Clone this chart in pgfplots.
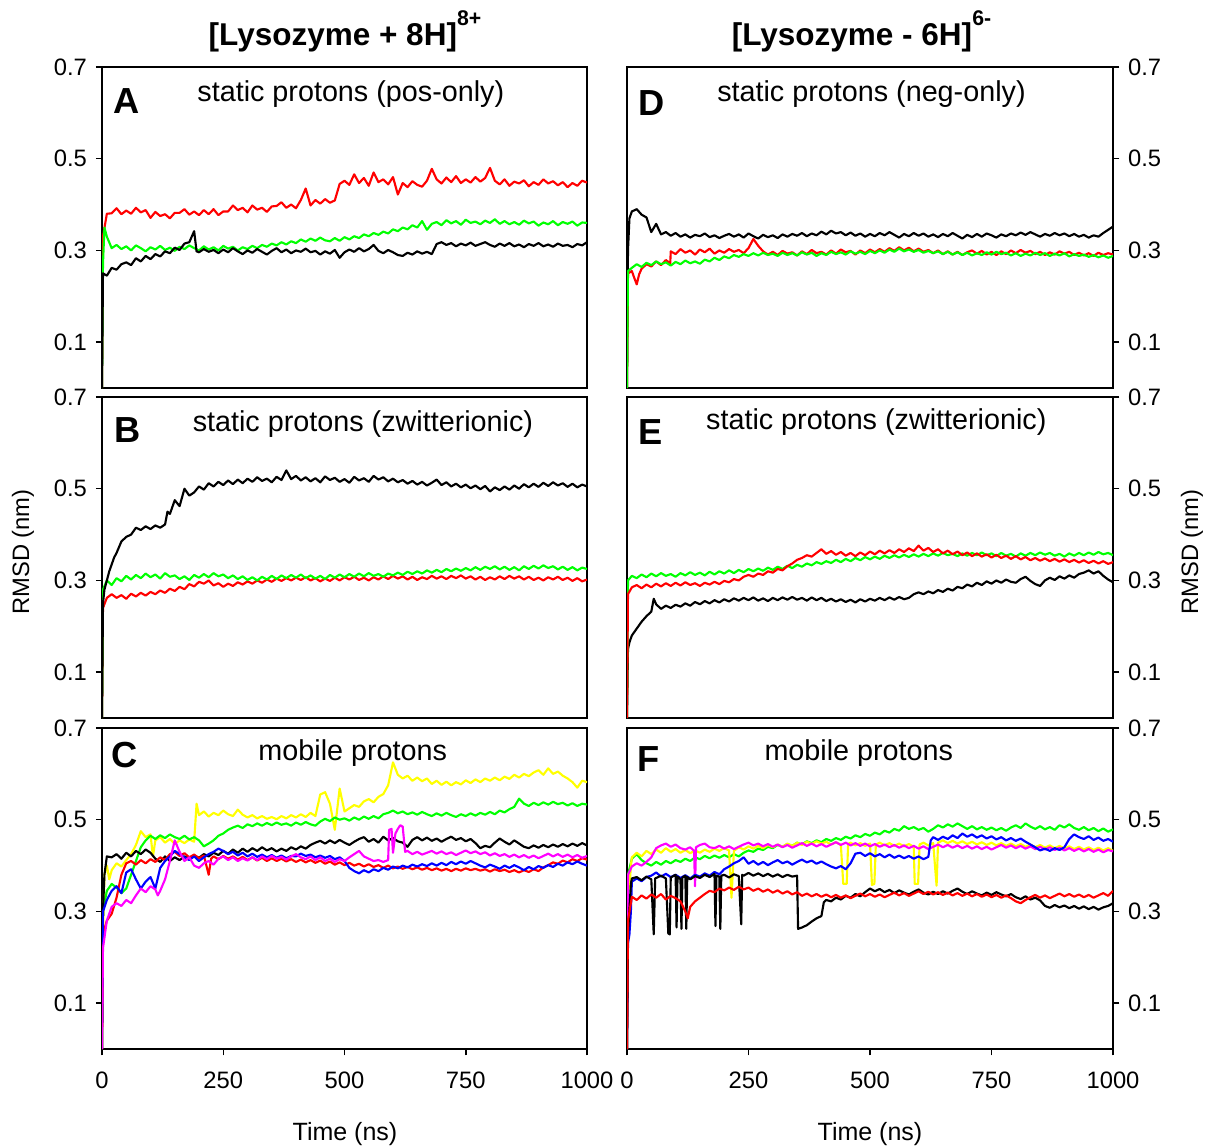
\documentclass[border=0pt]{standalone}
\usepackage{fontspec}
\setmainfont{Liberation Sans}
\usepackage{pgfplots}
\pgfplotsset{compat=1.18}

\definecolor{rred}{RGB}{255,0,0}
\definecolor{ggreen}{RGB}{0,255,0}
\definecolor{bblue}{RGB}{0,0,255}
\definecolor{yyellow}{RGB}{255,255,0}
\definecolor{mmag}{RGB}{255,0,255}

\pgfplotsset{
  panel/.style={
    scale only axis, width=194pt, height=128.4pt,
    xmin=0, xmax=1000, ymin=0, ymax=0.7,
    ytick={0.1,0.3,0.5,0.7},
    yticklabel style={/pgf/number format/fixed,/pgf/number format/precision=1},
    /pgf/number format/assume math mode=true,
    /pgf/number format/1000 sep={},
    tick align=outside, major tick length=2.5pt,
    tick style={black, line width=0.6pt},
    axis line style={line width=0.6pt},
    tick label style={font=\fontsize{9.5}{11}\selectfont},
    xtick=\empty,
    every axis plot/.append style={line width=0.85pt, line join=round},
  },
  leftp/.style={ytick pos=left, anchor=north west},
  rightp/.style={ytick pos=right, yticklabel pos=right, anchor=north west},
  bottomp/.style={xtick={0,250,500,750,1000}, xtick pos=bottom, xticklabel style={yshift=-3pt}},
}
\tikzset{
  letter/.style={font=\bfseries\fontsize{14.5}{16}\selectfont, anchor=base west, inner sep=0pt},
  sub/.style={font=\fontsize{11.5}{13}\selectfont, anchor=base},
}

\begin{document}
\begin{tikzpicture}
\useasboundingbox (0pt,0pt) rectangle (482pt,-458.8pt);

% ---------- A ----------
\begin{axis}[panel, leftp, at={(40.8pt,-26.8pt)}]
\addplot[rred] coordinates {(0,0) (2,0.33) (10,0.380) (20,0.381) (30,0.392) (40,0.379) (50,0.387) (60,0.380) (70,0.393) (80,0.383) (90,0.388) (100,0.371) (110,0.384) (120,0.375) (130,0.379) (140,0.370) (150,0.382) (160,0.382) (170,0.390) (180,0.378) (190,0.385) (200,0.377) (210,0.388) (220,0.379) (230,0.390) (240,0.377) (250,0.385) (260,0.385) (270,0.398) (280,0.388) (290,0.393) (300,0.383) (310,0.398) (320,0.389) (330,0.393) (340,0.384) (350,0.396) (360,0.397) (370,0.405) (380,0.393) (390,0.400) (400,0.392) (410,0.410) (420,0.435) (430,0.398) (440,0.410) (450,0.402) (460,0.412) (470,0.404) (480,0.409) (490,0.445) (500,0.452) (510,0.443) (520,0.466) (530,0.447) (540,0.458) (550,0.441) (560,0.470) (570,0.449) (580,0.455) (590,0.444) (600,0.460) (610,0.422) (620,0.447) (630,0.438) (640,0.451) (650,0.443) (660,0.439) (670,0.452) (680,0.478) (690,0.455) (700,0.446) (710,0.459) (720,0.449) (730,0.462) (740,0.447) (750,0.455) (760,0.448) (770,0.460) (780,0.450) (790,0.458) (800,0.480) (810,0.452) (820,0.444) (830,0.455) (840,0.441) (850,0.450) (860,0.446) (870,0.453) (880,0.440) (890,0.449) (900,0.443) (910,0.455) (920,0.446) (930,0.451) (940,0.442) (950,0.449) (960,0.438) (970,0.447) (980,0.441) (990,0.452) (1000,0.448)};
\addplot[ggreen] coordinates {(0,0) (2,0.27) (5,0.35) (10,0.33) (20,0.305) (30,0.312) (40,0.303) (50,0.309) (60,0.300) (70,0.311) (80,0.305) (90,0.298) (100,0.307) (110,0.302) (120,0.310) (130,0.301) (140,0.306) (150,0.299) (160,0.308) (170,0.303) (180,0.311) (190,0.305) (200,0.300) (210,0.309) (220,0.302) (230,0.307) (240,0.300) (250,0.310) (260,0.304) (270,0.308) (280,0.300) (290,0.307) (300,0.303) (310,0.310) (320,0.305) (330,0.312) (340,0.308) (350,0.315) (360,0.311) (370,0.318) (380,0.313) (390,0.320) (400,0.316) (410,0.324) (420,0.319) (430,0.326) (440,0.321) (450,0.328) (460,0.322) (470,0.320) (480,0.327) (490,0.321) (500,0.329) (510,0.324) (520,0.331) (530,0.327) (540,0.335) (550,0.331) (560,0.338) (570,0.334) (580,0.341) (590,0.337) (600,0.346) (610,0.342) (620,0.350) (630,0.346) (640,0.355) (650,0.350) (660,0.364) (670,0.345) (680,0.358) (690,0.362) (700,0.355) (710,0.366) (720,0.359) (730,0.364) (740,0.356) (750,0.367) (760,0.360) (770,0.363) (780,0.357) (790,0.365) (800,0.360) (810,0.368) (820,0.358) (830,0.364) (840,0.357) (850,0.362) (860,0.356) (870,0.365) (880,0.359) (890,0.363) (900,0.354) (910,0.361) (920,0.357) (930,0.364) (940,0.355) (950,0.362) (960,0.358) (970,0.363) (980,0.354) (990,0.361) (1000,0.360)};
\addplot[black] coordinates {(0,0) (2,0.25) (10,0.245) (20,0.262) (30,0.258) (40,0.270) (50,0.274) (60,0.268) (70,0.283) (80,0.276) (90,0.288) (100,0.281) (110,0.292) (120,0.287) (130,0.298) (140,0.294) (150,0.306) (160,0.301) (170,0.315) (180,0.318) (190,0.342) (195,0.298) (200,0.296) (210,0.303) (220,0.297) (230,0.301) (240,0.294) (250,0.302) (260,0.296) (270,0.305) (280,0.298) (290,0.292) (300,0.300) (310,0.295) (320,0.303) (330,0.297) (340,0.291) (350,0.299) (360,0.305) (370,0.296) (380,0.302) (390,0.294) (400,0.300) (410,0.297) (420,0.304) (430,0.296) (440,0.299) (450,0.291) (460,0.298) (470,0.293) (480,0.301) (490,0.284) (500,0.296) (510,0.302) (520,0.297) (530,0.305) (540,0.298) (550,0.303) (560,0.312) (570,0.299) (580,0.294) (590,0.301) (600,0.296) (610,0.290) (620,0.288) (630,0.295) (640,0.291) (650,0.298) (660,0.293) (670,0.297) (680,0.292) (690,0.314) (700,0.318) (710,0.312) (720,0.316) (730,0.309) (740,0.315) (750,0.311) (760,0.317) (770,0.310) (780,0.314) (790,0.318) (800,0.312) (810,0.308) (820,0.315) (830,0.310) (840,0.316) (850,0.309) (860,0.313) (870,0.307) (880,0.314) (890,0.310) (900,0.316) (910,0.309) (920,0.313) (930,0.308) (940,0.315) (950,0.310) (960,0.312) (970,0.307) (980,0.314) (990,0.311) (1000,0.318)};
\node[letter] at (rel axis cs:0.023,0.854) {A};
\node[sub] at (rel axis cs:0.513,0.894) {static protons (pos-only)};
\end{axis}

% ---------- D ----------
\begin{axis}[panel, rightp, at={(250.8pt,-26.8pt)}, width=194.4pt]
\addplot[black] coordinates {(0,0) (2,0.30) (5,0.37) (10,0.385) (20,0.39) (30,0.378) (40,0.372) (50,0.340) (60,0.358) (70,0.335) (80,0.340) (90,0.332) (100,0.338) (110,0.330) (120,0.335) (130,0.328) (140,0.334) (150,0.331) (160,0.337) (170,0.329) (180,0.333) (190,0.327) (200,0.332) (210,0.336) (220,0.330) (230,0.335) (240,0.328) (250,0.337) (260,0.331) (270,0.326) (280,0.334) (290,0.329) (300,0.333) (310,0.327) (320,0.335) (330,0.330) (340,0.336) (350,0.332) (360,0.338) (370,0.331) (380,0.337) (390,0.333) (400,0.341) (410,0.335) (420,0.343) (430,0.337) (440,0.340) (450,0.333) (460,0.339) (470,0.332) (480,0.337) (490,0.330) (500,0.336) (510,0.331) (520,0.338) (530,0.333) (540,0.340) (550,0.334) (560,0.328) (570,0.336) (580,0.331) (590,0.338) (600,0.332) (610,0.337) (620,0.330) (630,0.335) (640,0.329) (650,0.336) (660,0.331) (670,0.338) (680,0.332) (690,0.326) (700,0.334) (710,0.329) (720,0.336) (730,0.330) (740,0.337) (750,0.333) (760,0.328) (770,0.335) (780,0.331) (790,0.337) (800,0.333) (810,0.339) (820,0.334) (830,0.340) (840,0.335) (850,0.330) (860,0.336) (870,0.332) (880,0.338) (890,0.333) (900,0.337) (910,0.331) (920,0.336) (930,0.330) (940,0.334) (950,0.328) (960,0.333) (970,0.330) (980,0.338) (990,0.345) (1000,0.352)};
\addplot[rred] coordinates {(0,0) (2,0.25) (10,0.255) (15,0.240) (20,0.226) (25,0.248) (30,0.260) (40,0.270) (50,0.265) (60,0.276) (70,0.268) (80,0.279) (89,0.272) (90,0.298) (100,0.292) (110,0.303) (120,0.295) (130,0.300) (140,0.291) (150,0.302) (160,0.296) (170,0.304) (180,0.293) (190,0.300) (200,0.295) (210,0.303) (220,0.297) (230,0.301) (240,0.294) (250,0.305) (260,0.325) (270,0.310) (280,0.298) (290,0.291) (300,0.297) (310,0.290) (320,0.299) (330,0.293) (340,0.296) (350,0.289) (360,0.298) (370,0.292) (380,0.301) (390,0.294) (400,0.297) (410,0.291) (420,0.300) (430,0.293) (440,0.302) (450,0.296) (460,0.299) (470,0.291) (480,0.300) (490,0.294) (500,0.302) (510,0.296) (520,0.303) (530,0.297) (540,0.305) (550,0.299) (560,0.307) (570,0.300) (580,0.306) (590,0.298) (600,0.304) (610,0.297) (620,0.301) (630,0.294) (640,0.300) (650,0.292) (660,0.298) (670,0.291) (680,0.297) (690,0.290) (700,0.296) (710,0.300) (720,0.293) (730,0.299) (740,0.291) (750,0.297) (760,0.290) (770,0.298) (780,0.292) (790,0.300) (800,0.294) (810,0.301) (820,0.295) (830,0.299) (840,0.292) (850,0.297) (860,0.290) (870,0.296) (880,0.291) (890,0.298) (900,0.293) (910,0.297) (920,0.290) (930,0.295) (940,0.289) (950,0.294) (960,0.288) (970,0.295) (980,0.290) (990,0.294) (1000,0.291)};
\addplot[ggreen] coordinates {(0,0) (2,0.255) (10,0.262) (20,0.270) (30,0.264) (40,0.273) (50,0.268) (60,0.276) (70,0.270) (80,0.274) (90,0.267) (100,0.275) (110,0.270) (120,0.278) (130,0.272) (140,0.276) (150,0.271) (160,0.280) (170,0.276) (180,0.284) (190,0.279) (200,0.287) (210,0.283) (220,0.290) (230,0.286) (240,0.292) (250,0.288) (260,0.294) (270,0.289) (280,0.295) (290,0.290) (300,0.293) (310,0.288) (320,0.295) (330,0.290) (340,0.294) (350,0.289) (360,0.296) (370,0.291) (380,0.295) (390,0.288) (400,0.294) (410,0.290) (420,0.297) (430,0.292) (440,0.296) (450,0.291) (460,0.298) (470,0.293) (480,0.297) (490,0.292) (500,0.299) (510,0.294) (520,0.300) (530,0.295) (540,0.302) (550,0.297) (560,0.304) (570,0.298) (580,0.302) (590,0.297) (600,0.301) (610,0.295) (620,0.299) (630,0.294) (640,0.298) (650,0.292) (660,0.297) (670,0.291) (680,0.296) (690,0.290) (700,0.295) (710,0.289) (720,0.294) (730,0.290) (740,0.296) (750,0.291) (760,0.297) (770,0.292) (780,0.295) (790,0.289) (800,0.294) (810,0.288) (820,0.293) (830,0.289) (840,0.295) (850,0.290) (860,0.294) (870,0.288) (880,0.293) (890,0.289) (900,0.294) (910,0.287) (920,0.292) (930,0.288) (940,0.291) (950,0.286) (960,0.290) (970,0.285) (980,0.289) (990,0.284) (1000,0.288)};
\node[letter] at (rel axis cs:0.023,0.848) {D};
\node[sub] at (rel axis cs:0.503,0.891) {static protons (neg-only)};
\end{axis}

% ---------- B ----------
\begin{axis}[panel, leftp, at={(40.8pt,-158.8pt)}]
\addplot[rred] coordinates {(0,0) (2,0.24) (10,0.262) (20,0.270) (30,0.262) (40,0.268) (50,0.260) (60,0.271) (70,0.265) (80,0.273) (90,0.267) (100,0.275) (110,0.270) (120,0.278) (130,0.273) (140,0.282) (150,0.277) (160,0.286) (170,0.281) (180,0.292) (190,0.287) (200,0.297) (210,0.293) (220,0.300) (230,0.289) (240,0.294) (250,0.286) (260,0.293) (270,0.288) (280,0.296) (290,0.291) (300,0.298) (310,0.293) (320,0.300) (330,0.295) (340,0.302) (350,0.297) (360,0.304) (370,0.299) (380,0.305) (390,0.300) (400,0.306) (410,0.301) (420,0.307) (430,0.300) (440,0.305) (450,0.298) (460,0.304) (470,0.299) (480,0.306) (490,0.300) (500,0.307) (510,0.302) (520,0.308) (530,0.301) (540,0.306) (550,0.300) (560,0.307) (570,0.302) (580,0.309) (590,0.303) (600,0.310) (610,0.304) (620,0.309) (630,0.302) (640,0.308) (650,0.301) (660,0.307) (670,0.303) (680,0.310) (690,0.304) (700,0.309) (710,0.303) (720,0.310) (730,0.305) (740,0.311) (750,0.304) (760,0.309) (770,0.302) (780,0.308) (790,0.301) (800,0.307) (810,0.302) (820,0.309) (830,0.303) (840,0.310) (850,0.304) (860,0.309) (870,0.302) (880,0.308) (890,0.301) (900,0.306) (910,0.300) (920,0.307) (930,0.302) (940,0.308) (950,0.301) (960,0.306) (970,0.299) (980,0.305) (990,0.298) (1000,0.302)};
\addplot[ggreen] coordinates {(0,0) (2,0.28) (10,0.300) (20,0.290) (30,0.305) (40,0.298) (50,0.310) (60,0.302) (70,0.312) (80,0.305) (90,0.315) (100,0.307) (110,0.313) (120,0.304) (130,0.316) (140,0.308) (150,0.311) (160,0.303) (170,0.309) (180,0.301) (190,0.312) (200,0.306) (210,0.314) (220,0.307) (230,0.316) (240,0.309) (250,0.313) (260,0.305) (270,0.311) (280,0.303) (290,0.309) (300,0.301) (310,0.307) (320,0.300) (330,0.308) (340,0.302) (350,0.310) (360,0.303) (370,0.311) (380,0.305) (390,0.312) (400,0.306) (410,0.313) (420,0.305) (430,0.311) (440,0.304) (450,0.310) (460,0.303) (470,0.312) (480,0.306) (490,0.313) (500,0.307) (510,0.314) (520,0.308) (530,0.315) (540,0.309) (550,0.316) (560,0.310) (570,0.314) (580,0.308) (590,0.315) (600,0.311) (610,0.317) (620,0.312) (630,0.319) (640,0.314) (650,0.320) (660,0.315) (670,0.322) (680,0.317) (690,0.323) (700,0.318) (710,0.325) (720,0.320) (730,0.326) (740,0.321) (750,0.327) (760,0.322) (770,0.329) (780,0.323) (790,0.330) (800,0.325) (810,0.331) (820,0.324) (830,0.330) (840,0.323) (850,0.329) (860,0.322) (870,0.331) (880,0.325) (890,0.332) (900,0.326) (910,0.333) (920,0.327) (930,0.331) (940,0.324) (950,0.330) (960,0.323) (970,0.329) (980,0.322) (990,0.328) (1000,0.325)};
\addplot[black] coordinates {(0,0) (2,0.25) (5,0.28) (10,0.30) (15,0.32) (20,0.335) (25,0.35) (30,0.36) (40,0.385) (50,0.395) (60,0.40) (70,0.415) (80,0.41) (90,0.418) (100,0.412) (110,0.42) (120,0.415) (130,0.422) (135,0.45) (140,0.445) (150,0.475) (160,0.462) (170,0.50) (180,0.485) (190,0.492) (200,0.505) (210,0.498) (220,0.512) (230,0.505) (240,0.515) (250,0.508) (260,0.518) (270,0.510) (280,0.520) (290,0.512) (300,0.522) (310,0.515) (320,0.525) (330,0.517) (340,0.522) (350,0.514) (360,0.526) (370,0.519) (380,0.540) (390,0.521) (400,0.528) (410,0.518) (420,0.525) (430,0.516) (440,0.523) (450,0.514) (460,0.527) (470,0.519) (480,0.524) (490,0.515) (500,0.521) (510,0.513) (520,0.526) (530,0.518) (540,0.523) (550,0.515) (560,0.528) (570,0.520) (580,0.525) (590,0.516) (600,0.522) (610,0.514) (620,0.519) (630,0.511) (640,0.517) (650,0.509) (660,0.515) (670,0.507) (680,0.513) (690,0.520) (700,0.508) (710,0.514) (720,0.505) (730,0.511) (740,0.503) (750,0.509) (760,0.501) (770,0.507) (780,0.499) (790,0.506) (800,0.494) (810,0.503) (820,0.497) (830,0.505) (840,0.498) (850,0.507) (860,0.500) (870,0.510) (880,0.503) (890,0.511) (900,0.504) (910,0.513) (920,0.506) (930,0.514) (940,0.507) (950,0.512) (960,0.504) (970,0.511) (980,0.503) (990,0.509) (1000,0.505)};
\node[letter] at (rel axis cs:0.025,0.857) {B};
\node[sub] at (rel axis cs:0.538,0.894) {static protons (zwitterionic)};
\end{axis}

% ---------- E ----------
\begin{axis}[panel, rightp, at={(250.8pt,-158.8pt)}, width=194.4pt]
\addplot[black] coordinates {(0,0) (2,0.15) (5,0.165) (10,0.18) (20,0.195) (30,0.21) (40,0.222) (50,0.232) (55,0.26) (60,0.248) (70,0.238) (80,0.245) (90,0.240) (100,0.247) (110,0.243) (120,0.250) (130,0.245) (140,0.253) (150,0.248) (160,0.255) (170,0.250) (180,0.257) (190,0.252) (200,0.259) (210,0.254) (220,0.261) (230,0.256) (240,0.262) (250,0.257) (260,0.263) (270,0.256) (280,0.261) (290,0.255) (300,0.262) (310,0.257) (320,0.263) (330,0.258) (340,0.264) (350,0.258) (360,0.262) (370,0.256) (380,0.263) (390,0.257) (400,0.262) (410,0.255) (420,0.260) (430,0.254) (440,0.259) (450,0.253) (460,0.258) (470,0.252) (480,0.259) (490,0.254) (500,0.260) (510,0.256) (520,0.262) (530,0.257) (540,0.263) (550,0.258) (560,0.264) (570,0.259) (580,0.262) (590,0.270) (600,0.274) (610,0.270) (620,0.276) (630,0.272) (640,0.279) (650,0.275) (660,0.282) (670,0.278) (680,0.286) (690,0.283) (700,0.291) (710,0.287) (720,0.295) (730,0.290) (740,0.298) (750,0.293) (760,0.300) (770,0.295) (780,0.302) (790,0.297) (800,0.295) (810,0.303) (820,0.308) (830,0.299) (840,0.292) (850,0.288) (860,0.300) (870,0.306) (880,0.301) (890,0.309) (900,0.304) (910,0.311) (920,0.306) (930,0.314) (940,0.317) (950,0.322) (960,0.315) (970,0.320) (980,0.310) (990,0.302) (1000,0.296)};
\addplot[ggreen] coordinates {(0,0) (2,0.30) (10,0.310) (20,0.305) (30,0.313) (40,0.307) (50,0.315) (60,0.309) (70,0.316) (80,0.310) (90,0.314) (100,0.308) (110,0.316) (120,0.311) (130,0.318) (140,0.312) (150,0.317) (160,0.311) (170,0.319) (180,0.313) (190,0.320) (200,0.315) (210,0.322) (220,0.316) (230,0.323) (240,0.318) (250,0.325) (260,0.320) (270,0.326) (280,0.321) (290,0.328) (300,0.323) (310,0.330) (320,0.325) (330,0.332) (340,0.327) (350,0.334) (360,0.330) (370,0.337) (380,0.333) (390,0.340) (400,0.336) (410,0.342) (420,0.338) (430,0.345) (440,0.340) (450,0.347) (460,0.342) (470,0.349) (480,0.344) (490,0.351) (500,0.346) (510,0.352) (520,0.347) (530,0.354) (540,0.349) (550,0.355) (560,0.350) (570,0.356) (580,0.351) (590,0.357) (600,0.352) (610,0.358) (620,0.353) (630,0.359) (640,0.354) (650,0.360) (660,0.355) (670,0.358) (680,0.353) (690,0.359) (700,0.354) (710,0.360) (720,0.355) (730,0.361) (740,0.355) (750,0.359) (760,0.353) (770,0.360) (780,0.354) (790,0.358) (800,0.352) (810,0.359) (820,0.354) (830,0.360) (840,0.355) (850,0.361) (860,0.356) (870,0.360) (880,0.354) (890,0.358) (900,0.352) (910,0.359) (920,0.354) (930,0.360) (940,0.355) (950,0.361) (960,0.356) (970,0.362) (980,0.357) (990,0.360) (1000,0.355)};
\addplot[rred] coordinates {(0,0) (2,0.27) (10,0.285) (20,0.290) (30,0.283) (40,0.291) (50,0.285) (60,0.293) (70,0.287) (80,0.294) (90,0.288) (100,0.295) (110,0.289) (120,0.296) (130,0.290) (140,0.294) (150,0.288) (160,0.295) (170,0.291) (180,0.297) (190,0.292) (200,0.299) (210,0.296) (220,0.303) (230,0.300) (240,0.308) (250,0.312) (260,0.308) (270,0.315) (280,0.312) (290,0.320) (300,0.317) (310,0.325) (320,0.322) (330,0.331) (340,0.337) (350,0.345) (360,0.349) (370,0.355) (380,0.352) (390,0.360) (400,0.368) (410,0.358) (420,0.364) (430,0.356) (440,0.362) (450,0.354) (460,0.360) (470,0.353) (480,0.361) (490,0.355) (500,0.363) (510,0.357) (520,0.365) (530,0.359) (540,0.366) (550,0.360) (560,0.368) (570,0.362) (580,0.370) (590,0.364) (600,0.376) (610,0.365) (620,0.371) (630,0.362) (640,0.368) (650,0.359) (660,0.365) (670,0.357) (680,0.363) (690,0.355) (700,0.361) (710,0.353) (720,0.359) (730,0.352) (740,0.357) (750,0.350) (760,0.356) (770,0.349) (780,0.354) (790,0.347) (800,0.353) (810,0.346) (820,0.351) (830,0.344) (840,0.349) (850,0.343) (860,0.348) (870,0.342) (880,0.347) (890,0.341) (900,0.346) (910,0.340) (920,0.345) (930,0.339) (940,0.344) (950,0.338) (960,0.343) (970,0.337) (980,0.342) (990,0.336) (1000,0.340)};
\node[letter] at (rel axis cs:0.023,0.851) {E};
\node[sub] at (rel axis cs:0.513,0.900) {static protons (zwitterionic)};
\end{axis}

% ---------- C ----------
\begin{axis}[panel, leftp, bottomp, at={(40.8pt,-291.2pt)}]
\addplot[yyellow] coordinates {(0,0) (2,0.25) (5,0.38) (10,0.40) (15,0.37) (20,0.39) (30,0.405) (40,0.398) (50,0.412) (60,0.425) (70,0.445) (80,0.475) (90,0.462) (100,0.468) (105,0.42) (110,0.455) (120,0.462) (130,0.450) (140,0.458) (150,0.447) (160,0.455) (170,0.449) (180,0.457) (190,0.452) (195,0.535) (200,0.510) (210,0.518) (220,0.507) (230,0.515) (240,0.510) (250,0.520) (260,0.512) (270,0.508) (280,0.522) (290,0.511) (300,0.505) (310,0.510) (320,0.503) (330,0.508) (340,0.502) (350,0.506) (360,0.501) (370,0.508) (380,0.503) (390,0.510) (400,0.505) (410,0.512) (420,0.506) (430,0.515) (440,0.508) (450,0.555) (460,0.560) (470,0.535) (480,0.478) (490,0.568) (500,0.518) (510,0.525) (520,0.532) (530,0.528) (540,0.540) (550,0.545) (560,0.538) (570,0.550) (580,0.556) (590,0.575) (600,0.625) (610,0.598) (620,0.590) (630,0.596) (640,0.585) (650,0.592) (660,0.584) (670,0.590) (680,0.578) (690,0.585) (700,0.576) (710,0.583) (720,0.575) (730,0.582) (740,0.577) (750,0.586) (760,0.580) (770,0.588) (780,0.582) (790,0.590) (800,0.585) (810,0.592) (820,0.586) (830,0.594) (840,0.589) (850,0.598) (860,0.592) (870,0.600) (880,0.595) (890,0.603) (900,0.608) (910,0.598) (920,0.612) (930,0.600) (940,0.605) (950,0.596) (960,0.590) (970,0.582) (980,0.570) (990,0.585) (1000,0.582)};
\addplot[ggreen] coordinates {(0,0) (2,0.30) (10,0.345) (20,0.360) (30,0.352) (40,0.340) (50,0.350) (60,0.380) (70,0.410) (80,0.440) (90,0.455) (100,0.465) (110,0.458) (120,0.466) (130,0.460) (140,0.468) (150,0.462) (160,0.458) (170,0.465) (180,0.457) (190,0.462) (200,0.455) (210,0.442) (220,0.448) (230,0.455) (240,0.465) (250,0.470) (260,0.478) (270,0.483) (280,0.487) (290,0.482) (300,0.490) (310,0.486) (320,0.492) (330,0.487) (340,0.493) (350,0.488) (360,0.494) (370,0.489) (380,0.492) (390,0.487) (400,0.494) (410,0.489) (420,0.495) (430,0.490) (440,0.487) (450,0.496) (460,0.502) (470,0.497) (480,0.505) (490,0.500) (500,0.503) (510,0.498) (520,0.505) (530,0.500) (540,0.507) (550,0.502) (560,0.508) (570,0.503) (580,0.512) (590,0.515) (600,0.520) (610,0.514) (620,0.518) (630,0.512) (640,0.516) (650,0.511) (660,0.517) (670,0.512) (680,0.508) (690,0.514) (700,0.509) (710,0.515) (720,0.510) (730,0.506) (740,0.512) (750,0.508) (760,0.514) (770,0.509) (780,0.515) (790,0.511) (800,0.517) (810,0.512) (820,0.520) (830,0.516) (840,0.523) (850,0.528) (860,0.546) (870,0.535) (880,0.530) (890,0.537) (900,0.532) (910,0.538) (920,0.533) (930,0.539) (940,0.534) (950,0.537) (960,0.531) (970,0.536) (980,0.530) (990,0.535) (1000,0.533)};
\addplot[black] coordinates {(0,0) (2,0.30) (5,0.38) (10,0.42) (20,0.418) (30,0.425) (40,0.415) (50,0.428) (60,0.420) (70,0.432) (80,0.425) (90,0.435) (100,0.428) (110,0.415) (120,0.408) (130,0.420) (140,0.410) (150,0.418) (160,0.412) (170,0.420) (180,0.415) (190,0.422) (200,0.417) (210,0.425) (220,0.420) (230,0.428) (240,0.423) (250,0.432) (260,0.426) (270,0.435) (280,0.428) (290,0.437) (300,0.430) (310,0.438) (320,0.432) (330,0.440) (340,0.433) (350,0.438) (360,0.431) (370,0.437) (380,0.432) (390,0.440) (400,0.435) (410,0.442) (420,0.437) (430,0.445) (440,0.450) (450,0.454) (460,0.448) (470,0.455) (480,0.449) (490,0.456) (500,0.450) (510,0.445) (520,0.452) (530,0.458) (540,0.462) (550,0.452) (560,0.458) (570,0.450) (580,0.463) (590,0.455) (600,0.460) (610,0.453) (620,0.450) (630,0.441) (640,0.456) (650,0.462) (660,0.455) (670,0.461) (680,0.454) (690,0.459) (700,0.452) (710,0.458) (720,0.463) (730,0.456) (740,0.460) (750,0.453) (760,0.458) (770,0.449) (780,0.438) (790,0.443) (800,0.440) (810,0.450) (820,0.459) (830,0.452) (840,0.446) (850,0.455) (860,0.448) (870,0.441) (880,0.438) (890,0.444) (900,0.439) (910,0.445) (920,0.440) (930,0.446) (940,0.441) (950,0.447) (960,0.442) (970,0.448) (980,0.443) (990,0.449) (1000,0.444)};
\addplot[rred] coordinates {(0,0) (2,0.25) (10,0.28) (20,0.295) (30,0.330) (40,0.380) (50,0.405) (60,0.410) (70,0.402) (80,0.412) (90,0.405) (100,0.414) (110,0.408) (120,0.418) (130,0.412) (140,0.425) (150,0.430) (160,0.421) (170,0.427) (180,0.418) (190,0.424) (200,0.416) (210,0.422) (220,0.380) (225,0.415) (230,0.420) (240,0.414) (250,0.421) (260,0.415) (270,0.420) (280,0.413) (290,0.419) (300,0.412) (310,0.418) (320,0.411) (330,0.417) (340,0.410) (350,0.416) (360,0.410) (370,0.415) (380,0.409) (390,0.414) (400,0.408) (410,0.413) (420,0.407) (430,0.412) (440,0.406) (450,0.411) (460,0.404) (470,0.409) (480,0.402) (490,0.407) (500,0.401) (510,0.406) (520,0.400) (530,0.404) (540,0.398) (550,0.403) (560,0.397) (570,0.401) (580,0.395) (590,0.400) (600,0.394) (610,0.398) (620,0.393) (630,0.397) (640,0.392) (650,0.396) (660,0.391) (670,0.395) (680,0.390) (690,0.394) (700,0.389) (710,0.393) (720,0.388) (730,0.393) (740,0.389) (750,0.394) (760,0.390) (770,0.393) (780,0.389) (790,0.392) (800,0.387) (810,0.392) (820,0.388) (830,0.391) (840,0.386) (850,0.390) (860,0.385) (870,0.390) (880,0.386) (890,0.392) (900,0.388) (910,0.396) (920,0.401) (930,0.407) (940,0.404) (950,0.411) (960,0.407) (970,0.414) (980,0.410) (990,0.416) (1000,0.413)};
\addplot[bblue] coordinates {(0,0) (2,0.30) (10,0.325) (20,0.345) (30,0.355) (40,0.340) (50,0.385) (60,0.392) (70,0.370) (80,0.350) (90,0.365) (100,0.375) (110,0.350) (120,0.395) (130,0.410) (140,0.420) (150,0.432) (160,0.425) (170,0.418) (180,0.412) (190,0.420) (200,0.410) (210,0.418) (220,0.425) (230,0.430) (240,0.437) (250,0.432) (260,0.425) (270,0.430) (280,0.422) (290,0.428) (300,0.420) (310,0.426) (320,0.419) (330,0.424) (340,0.418) (350,0.423) (360,0.417) (370,0.422) (380,0.416) (390,0.421) (400,0.420) (410,0.426) (420,0.421) (430,0.424) (440,0.418) (450,0.422) (460,0.417) (470,0.421) (480,0.414) (490,0.418) (500,0.410) (510,0.395) (520,0.388) (530,0.383) (540,0.390) (550,0.385) (560,0.392) (570,0.388) (580,0.395) (590,0.391) (600,0.398) (610,0.394) (620,0.400) (630,0.396) (640,0.402) (650,0.398) (660,0.403) (670,0.399) (680,0.405) (690,0.400) (700,0.406) (710,0.401) (720,0.408) (730,0.403) (740,0.409) (750,0.404) (760,0.410) (770,0.405) (780,0.400) (790,0.396) (800,0.402) (810,0.398) (820,0.393) (830,0.400) (840,0.395) (850,0.401) (860,0.396) (870,0.390) (880,0.397) (890,0.392) (900,0.399) (910,0.395) (920,0.401) (930,0.397) (940,0.404) (950,0.400) (960,0.407) (970,0.403) (980,0.409) (990,0.404) (1000,0.400)};
\addplot[mmag] coordinates {(0,0) (2,0.22) (10,0.28) (20,0.310) (30,0.318) (40,0.312) (50,0.325) (60,0.318) (70,0.335) (80,0.350) (90,0.342) (100,0.355) (110,0.348) (115,0.335) (120,0.345) (130,0.370) (140,0.410) (150,0.455) (160,0.430) (170,0.410) (180,0.418) (190,0.400) (200,0.395) (210,0.405) (220,0.410) (230,0.402) (240,0.415) (250,0.420) (260,0.412) (270,0.418) (280,0.410) (290,0.416) (300,0.411) (310,0.418) (320,0.412) (330,0.420) (340,0.414) (350,0.421) (360,0.415) (370,0.419) (380,0.413) (390,0.420) (400,0.425) (410,0.418) (420,0.414) (430,0.420) (440,0.412) (450,0.418) (460,0.410) (470,0.415) (480,0.408) (490,0.414) (500,0.410) (510,0.418) (520,0.425) (530,0.432) (540,0.420) (550,0.415) (560,0.410) (570,0.412) (580,0.408) (590,0.412) (592,0.478) (597,0.480) (600,0.428) (605,0.470) (610,0.480) (615,0.488) (620,0.485) (625,0.430) (630,0.432) (640,0.425) (650,0.430) (660,0.424) (670,0.428) (680,0.432) (690,0.426) (700,0.431) (710,0.425) (720,0.429) (730,0.423) (740,0.428) (750,0.433) (760,0.427) (770,0.431) (780,0.425) (790,0.429) (800,0.422) (810,0.427) (820,0.421) (830,0.425) (840,0.419) (850,0.424) (860,0.418) (870,0.423) (880,0.417) (890,0.422) (900,0.416) (910,0.421) (920,0.426) (930,0.420) (940,0.425) (950,0.419) (960,0.424) (970,0.418) (980,0.423) (990,0.417) (1000,0.421)};
\node[letter] at (rel axis cs:0.019,0.876) {C};
\node[sub] at (rel axis cs:0.517,0.900) {mobile protons};
\end{axis}

% ---------- F ----------
\begin{axis}[panel, rightp, bottomp, at={(250.8pt,-291.2pt)}, width=194.4pt]
\addplot[ggreen] coordinates {(0,0) (2,0.38) (10,0.415) (20,0.425) (30,0.412) (40,0.405) (50,0.400) (60,0.408) (70,0.402) (80,0.410) (90,0.405) (100,0.412) (110,0.408) (120,0.415) (130,0.410) (140,0.418) (150,0.414) (160,0.421) (170,0.416) (180,0.422) (190,0.417) (200,0.423) (210,0.418) (220,0.425) (230,0.420) (240,0.428) (250,0.433) (260,0.430) (270,0.437) (280,0.434) (290,0.441) (300,0.438) (310,0.445) (320,0.441) (330,0.447) (340,0.443) (350,0.450) (360,0.446) (370,0.453) (380,0.449) (390,0.455) (400,0.451) (410,0.458) (420,0.454) (430,0.460) (440,0.456) (450,0.463) (460,0.459) (470,0.466) (480,0.462) (490,0.469) (500,0.465) (510,0.472) (520,0.468) (530,0.476) (540,0.472) (550,0.480) (560,0.476) (570,0.486) (580,0.480) (590,0.484) (600,0.478) (610,0.482) (620,0.474) (630,0.480) (640,0.488) (650,0.483) (660,0.490) (670,0.485) (680,0.492) (690,0.486) (700,0.480) (710,0.486) (720,0.479) (730,0.484) (740,0.478) (750,0.483) (760,0.477) (770,0.482) (780,0.476) (790,0.483) (800,0.488) (810,0.482) (820,0.492) (830,0.485) (840,0.480) (850,0.486) (860,0.479) (870,0.484) (880,0.478) (890,0.488) (900,0.483) (910,0.490) (920,0.482) (930,0.478) (940,0.484) (950,0.477) (960,0.482) (970,0.475) (980,0.481) (990,0.474) (1000,0.479)};
\addplot[yyellow] coordinates {(0,0) (2,0.38) (5,0.35) (8,0.40) (10,0.418) (20,0.428) (30,0.420) (40,0.432) (50,0.425) (60,0.435) (70,0.428) (80,0.438) (90,0.430) (100,0.436) (110,0.428) (120,0.434) (130,0.427) (140,0.433) (150,0.428) (160,0.435) (170,0.430) (180,0.437) (190,0.432) (200,0.438) (210,0.433) (215,0.330) (220,0.432) (230,0.440) (240,0.435) (250,0.442) (260,0.437) (270,0.443) (280,0.438) (290,0.445) (300,0.440) (310,0.446) (320,0.441) (330,0.448) (340,0.443) (350,0.450) (360,0.445) (370,0.452) (380,0.447) (390,0.453) (400,0.448) (410,0.452) (420,0.446) (430,0.451) (440,0.445) (445,0.360) (452,0.360) (455,0.447) (460,0.450) (470,0.444) (480,0.449) (490,0.443) (500,0.448) (504,0.358) (509,0.360) (512,0.446) (520,0.450) (530,0.444) (540,0.449) (550,0.443) (560,0.448) (570,0.442) (580,0.447) (590,0.441) (592,0.360) (599,0.360) (602,0.446) (610,0.450) (620,0.444) (630,0.449) (637,0.356) (640,0.450) (650,0.455) (660,0.449) (670,0.454) (680,0.448) (690,0.453) (700,0.447) (710,0.452) (720,0.446) (730,0.451) (740,0.445) (750,0.450) (760,0.444) (770,0.449) (780,0.443) (790,0.448) (800,0.442) (810,0.447) (820,0.441) (830,0.446) (840,0.440) (850,0.445) (860,0.439) (870,0.444) (880,0.438) (890,0.443) (900,0.437) (910,0.442) (920,0.436) (930,0.441) (940,0.435) (950,0.440) (960,0.434) (970,0.439) (980,0.433) (990,0.438) (1000,0.432)};
\addplot[mmag] coordinates {(0,0) (2,0.38) (10,0.398) (20,0.405) (30,0.400) (40,0.408) (50,0.418) (60,0.438) (70,0.444) (80,0.448) (90,0.441) (100,0.446) (110,0.438) (120,0.435) (130,0.440) (138,0.432) (140,0.355) (142,0.44) (150,0.445) (160,0.448) (170,0.440) (180,0.438) (190,0.443) (200,0.437) (210,0.442) (220,0.436) (230,0.441) (240,0.446) (250,0.450) (260,0.444) (270,0.448) (280,0.442) (290,0.447) (300,0.441) (310,0.446) (320,0.440) (330,0.445) (340,0.439) (350,0.444) (360,0.449) (370,0.443) (380,0.448) (390,0.442) (400,0.447) (410,0.441) (420,0.446) (430,0.451) (440,0.445) (450,0.450) (460,0.444) (470,0.449) (480,0.443) (490,0.448) (500,0.442) (510,0.447) (520,0.441) (530,0.446) (540,0.440) (550,0.445) (560,0.439) (570,0.444) (580,0.438) (590,0.443) (600,0.437) (610,0.442) (620,0.436) (630,0.441) (640,0.446) (650,0.440) (660,0.445) (670,0.439) (680,0.444) (690,0.438) (700,0.443) (710,0.437) (720,0.442) (730,0.436) (740,0.441) (750,0.435) (760,0.440) (770,0.445) (780,0.439) (790,0.444) (800,0.438) (810,0.443) (820,0.437) (830,0.442) (840,0.436) (850,0.441) (860,0.435) (870,0.440) (880,0.434) (890,0.439) (900,0.433) (910,0.438) (920,0.432) (930,0.437) (940,0.431) (950,0.436) (960,0.430) (970,0.435) (980,0.429) (990,0.434) (1000,0.431)};
\addplot[bblue] coordinates {(0,0) (2,0.23) (5,0.25) (8,0.30) (10,0.365) (20,0.372) (30,0.366) (40,0.375) (50,0.378) (60,0.385) (70,0.376) (80,0.382) (90,0.375) (100,0.380) (110,0.373) (120,0.379) (130,0.372) (140,0.380) (150,0.376) (160,0.383) (170,0.378) (180,0.386) (190,0.381) (200,0.392) (210,0.398) (220,0.405) (230,0.410) (240,0.418) (250,0.404) (260,0.410) (270,0.402) (280,0.408) (290,0.401) (300,0.407) (310,0.412) (320,0.405) (330,0.409) (340,0.402) (350,0.408) (360,0.413) (370,0.407) (380,0.411) (390,0.404) (400,0.409) (410,0.403) (420,0.398) (430,0.394) (440,0.399) (450,0.392) (460,0.405) (470,0.426) (480,0.428) (490,0.421) (500,0.427) (510,0.420) (520,0.425) (530,0.418) (540,0.424) (550,0.417) (560,0.422) (570,0.416) (580,0.421) (590,0.415) (600,0.420) (610,0.414) (620,0.419) (625,0.455) (630,0.462) (640,0.456) (650,0.463) (660,0.458) (670,0.466) (680,0.460) (690,0.470) (700,0.463) (710,0.468) (720,0.461) (730,0.466) (740,0.459) (750,0.464) (760,0.457) (770,0.462) (780,0.455) (790,0.460) (800,0.454) (810,0.459) (820,0.452) (830,0.446) (840,0.440) (850,0.433) (860,0.437) (870,0.432) (880,0.438) (890,0.434) (900,0.440) (910,0.458) (920,0.468) (930,0.462) (940,0.458) (950,0.464) (960,0.456) (970,0.461) (980,0.454) (990,0.458) (1000,0.452)};
\addplot[black] coordinates {(0,0) (2,0.25) (8,0.36) (10,0.372) (20,0.375) (30,0.368) (40,0.376) (50,0.370) (55,0.250) (58,0.372) (70,0.378) (80,0.372) (85,0.252) (88,0.250) (90,0.374) (100,0.380) (102,0.265) (104,0.376) (110,0.370) (112,0.262) (114,0.374) (120,0.378) (122,0.262) (124,0.375) (130,0.370) (140,0.377) (150,0.373) (160,0.380) (170,0.375) (180,0.382) (182,0.268) (184,0.378) (190,0.376) (192,0.262) (194,0.378) (200,0.380) (210,0.374) (220,0.381) (230,0.377) (235,0.272) (237,0.380) (240,0.378) (250,0.384) (260,0.378) (270,0.383) (280,0.377) (290,0.382) (300,0.376) (310,0.381) (320,0.375) (330,0.380) (340,0.376) (350,0.378) (352,0.262) (360,0.265) (370,0.270) (380,0.278) (390,0.285) (400,0.290) (405,0.320) (410,0.325) (420,0.322) (430,0.330) (440,0.326) (450,0.334) (460,0.330) (470,0.338) (480,0.333) (490,0.342) (500,0.350) (510,0.344) (520,0.349) (530,0.342) (540,0.347) (550,0.340) (560,0.346) (570,0.341) (580,0.337) (590,0.343) (600,0.348) (610,0.341) (620,0.337) (630,0.343) (640,0.338) (650,0.344) (660,0.339) (670,0.345) (680,0.350) (690,0.343) (700,0.338) (710,0.344) (720,0.339) (730,0.335) (740,0.341) (750,0.336) (760,0.342) (770,0.337) (780,0.333) (790,0.338) (800,0.331) (810,0.327) (820,0.333) (830,0.326) (840,0.330) (850,0.324) (860,0.312) (870,0.308) (880,0.314) (890,0.309) (900,0.313) (910,0.307) (920,0.312) (930,0.306) (940,0.311) (950,0.305) (960,0.310) (970,0.304) (980,0.309) (990,0.312) (1000,0.318)};
\addplot[rred] coordinates {(0,0) (2,0.28) (10,0.332) (20,0.325) (30,0.335) (40,0.328) (50,0.337) (60,0.330) (70,0.338) (80,0.326) (90,0.334) (100,0.329) (110,0.322) (120,0.300) (125,0.285) (130,0.310) (140,0.322) (150,0.330) (160,0.338) (170,0.345) (180,0.342) (190,0.350) (200,0.346) (210,0.352) (220,0.347) (230,0.354) (240,0.348) (250,0.352) (260,0.345) (270,0.350) (280,0.343) (290,0.348) (300,0.341) (310,0.346) (320,0.339) (330,0.344) (340,0.337) (350,0.342) (360,0.334) (370,0.339) (380,0.333) (390,0.338) (400,0.332) (410,0.337) (420,0.331) (430,0.336) (440,0.330) (450,0.335) (460,0.329) (470,0.334) (480,0.339) (490,0.333) (500,0.338) (510,0.332) (520,0.337) (530,0.331) (540,0.336) (550,0.341) (560,0.335) (570,0.340) (580,0.334) (590,0.339) (600,0.344) (610,0.338) (620,0.343) (630,0.337) (640,0.342) (650,0.336) (660,0.341) (670,0.335) (680,0.340) (690,0.334) (700,0.339) (710,0.333) (720,0.338) (730,0.332) (740,0.337) (750,0.331) (760,0.336) (770,0.330) (780,0.335) (790,0.329) (800,0.322) (810,0.318) (820,0.325) (830,0.331) (840,0.336) (850,0.330) (860,0.335) (870,0.329) (880,0.334) (890,0.339) (900,0.333) (910,0.338) (920,0.332) (930,0.337) (940,0.331) (950,0.336) (960,0.330) (970,0.335) (980,0.340) (990,0.334) (1000,0.345)};
\node[letter] at (rel axis cs:0.021,0.866) {F};
\node[sub] at (rel axis cs:0.477,0.900) {mobile protons};
\end{axis}

% ---------- titles and axis labels ----------
\node[anchor=base, font=\bfseries\fontsize{12.6}{14}\selectfont] at (138pt,-18pt) {[Lysozyme + 8H]\raisebox{8pt}{\fontsize{8.5}{9}\selectfont 8+}};
\node[anchor=base, font=\bfseries\fontsize{12.6}{14}\selectfont] at (344.6pt,-18pt) {[Lysozyme - 6H]\raisebox{8pt}{\fontsize{8.5}{9}\selectfont 6-}};
\node[rotate=90, font=\fontsize{9.5}{11}\selectfont] at (9.2pt,-220.8pt) {RMSD (nm)};
\node[rotate=90, font=\fontsize{9.5}{11}\selectfont] at (476.8pt,-220.8pt) {RMSD (nm)};
\node[font=\fontsize{10}{12}\selectfont] at (138pt,-453.6pt) {Time (ns)};
\node[font=\fontsize{10}{12}\selectfont] at (348pt,-453.6pt) {Time (ns)};
\end{tikzpicture}
\end{document}
